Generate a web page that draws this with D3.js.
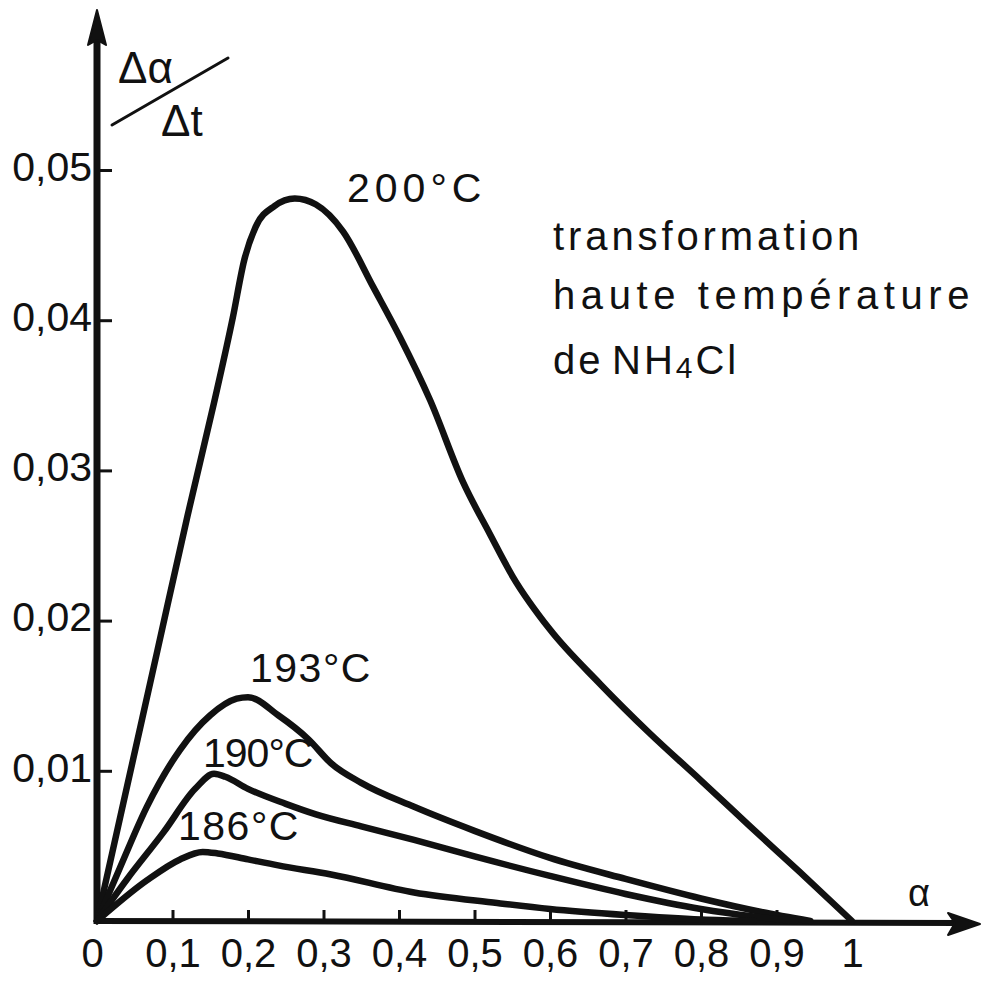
<!DOCTYPE html>
<html>
<head>
<meta charset="utf-8">
<script src="https://cdn.jsdelivr.net/npm/d3@7"></script>
<style>
  html, body { margin: 0; padding: 0; background: #fff; }
  svg { display: block; }
  .lbl { font-family: "Liberation Sans", "DejaVu Sans", sans-serif; fill: #111; }
  .tick text { font-family: "Liberation Sans Narrow", "Liberation Sans", sans-serif; fill: #111; }
</style>
</head>
<body>
<svg id="chart" width="984" height="985"></svg>
<script>
// ---------- data ----------
const alpha200 = [0, 0.04, 0.08, 0.12, 0.155, 0.18, 0.195, 0.21, 0.235, 0.262, 0.29, 0.326, 0.366, 0.401, 0.441, 0.485, 0.52, 0.551, 0.6, 0.666, 0.732, 0.799, 0.865, 0.93, 1];
const rate200  = [0, 0.0090, 0.0180, 0.0270, 0.0345, 0.0402, 0.0440, 0.0462, 0.0476, 0.0481, 0.0477, 0.0459, 0.0422, 0.0389, 0.0347, 0.0292, 0.0258, 0.0229, 0.0194, 0.0158, 0.0125, 0.0094, 0.0063, 0.0033, 0];

const alpha193 = [0, 0.03, 0.066, 0.11, 0.15, 0.185, 0.2, 0.24, 0.28, 0.31, 0.35, 0.42, 0.5, 0.6, 0.7, 0.8, 0.88, 0.945];
const rate193  = [0, 0.0035, 0.0076, 0.0114, 0.0137, 0.0148, 0.0149, 0.0137, 0.0121, 0.0105, 0.0092, 0.0076, 0.0060, 0.0042, 0.0028, 0.0015, 0.0006, 0];

const alpha190 = [0, 0.04, 0.088, 0.13, 0.155, 0.17, 0.2, 0.25, 0.29, 0.35, 0.42, 0.5, 0.6, 0.7, 0.8, 0.87, 0.925];
const rate190  = [0, 0.0028, 0.0059, 0.0088, 0.0098, 0.0096, 0.0088, 0.0078, 0.0071, 0.0063, 0.0054, 0.0043, 0.0030, 0.0018, 0.0008, 0.0003, 0];

const alpha186 = [0, 0.066, 0.11, 0.14, 0.16, 0.2, 0.24, 0.31, 0.42, 0.53, 0.6, 0.7, 0.8, 0.87];
const rate186  = [0, 0.0027, 0.0041, 0.0046, 0.0045, 0.0041, 0.0037, 0.0031, 0.0019, 0.0012, 0.0008, 0.0004, 0.0001, 0];

const seriesNames = ["200°C", "193°C", "190°C", "186°C"];
const xTickValues = [0, 0.1, 0.2, 0.3, 0.4, 0.5, 0.6, 0.7, 0.8, 0.9, 1];
const xTickLabels = ["0", "0,1", "0,2", "0,3", "0,4", "0,5", "0,6", "0,7", "0,8", "0,9", "1"];
const yTickValues = [0.01, 0.02, 0.03, 0.04, 0.05];
const yTickLabels = ["0,01", "0,02", "0,03", "0,04", "0,05"];

// ---------- drawing ----------
const svg = d3.select("#chart");
const x = d3.scaleLinear().domain([0, 1]).range([97, 852]);
const y = d3.scaleLinear().domain([0, 0.05]).range([921, 170]);

const ink = "#111";

// x axis ticks & labels
const xAxis = d3.axisBottom(x)
  .tickValues(xTickValues)
  .tickFormat((d, i) => xTickLabels[i])
  .tickSizeInner(-11).tickSizeOuter(0).tickPadding(18);
const gx = svg.append("g").attr("transform", `translate(0,${y(0)})`).call(xAxis);
gx.select(".domain").remove();
gx.selectAll(".tick line").attr("stroke", ink).attr("stroke-width", 3)
  .attr("opacity", d => (d === 0 || d === 1) ? 0 : 1);
gx.selectAll(".tick text").attr("font-size", 40).attr("fill", ink)
  .attr("dx", d => d === 0 ? -5 : 0);

// y axis ticks & labels
const yAxis = d3.axisLeft(y)
  .tickValues(yTickValues)
  .tickFormat((d, i) => yTickLabels[i])
  .tickSizeInner(-15).tickSizeOuter(0).tickPadding(5);
const gy = svg.append("g").attr("transform", `translate(${x(0)},0)`).call(yAxis);
gy.select(".domain").remove();
gy.selectAll(".tick line").attr("stroke", ink).attr("stroke-width", 3);
gy.selectAll(".tick text").attr("font-size", 41).attr("fill", ink).attr("dy", "0.25em");

// main axis lines with arrows
svg.append("line").attr("x1", x(0)).attr("y1", y(0) + 3).attr("x2", x(0)).attr("y2", 30)
  .attr("stroke", ink).attr("stroke-width", 7);
svg.append("path").attr("d", "M97,10 L88,45 L97,40 L106,45 Z").attr("fill", ink).attr("stroke", ink).attr("stroke-width", 2).attr("stroke-linejoin", "round");
svg.append("line").attr("x1", x(0) - 3).attr("y1", y(0)).attr("x2", 960).attr("y2", y(0) + 2)
  .attr("stroke", ink).attr("stroke-width", 6);
svg.append("path").attr("d", "M980,924 L948,913 L955,923 L948,935 Z").attr("fill", ink).attr("stroke", ink).attr("stroke-width", 2).attr("stroke-linejoin", "round");

// curves
const line = d3.line().x(d => x(d[0])).y(d => y(d[1])).curve(d3.curveMonotoneX);
const series = [
  d3.zip(alpha200, rate200),
  d3.zip(alpha193, rate193),
  d3.zip(alpha190, rate190),
  d3.zip(alpha186, rate186)
];
svg.append("g").selectAll("path").data(series).join("path")
  .attr("d", line)
  .attr("fill", "none").attr("stroke", ink)
  .attr("stroke-width", 6.5).attr("stroke-linejoin", "round").attr("stroke-linecap", "round");

// curve labels
const labelPos = [
  {x: 347, y: 202, ls: 5},
  {x: 250, y: 682, ls: 1.5},
  {x: 203, y: 767, ls: -1},
  {x: 178, y: 840, ls: 1.5}
];
svg.append("g").selectAll("text").data(seriesNames).join("text")
  .attr("class", "lbl")
  .attr("x", (d, i) => labelPos[i].x).attr("y", (d, i) => labelPos[i].y)
  .attr("font-size", 41)
  .attr("letter-spacing", (d, i) => labelPos[i].ls)
  .text(d => d);

// annotation block
svg.append("text").attr("class", "lbl").attr("x", 553).attr("y", 250)
  .attr("font-size", 40).attr("letter-spacing", 3.9).text("transformation");
svg.append("text").attr("class", "lbl").attr("x", 553).attr("y", 309)
  .attr("font-size", 40).attr("letter-spacing", 5.6).text("haute température");
const t3 = svg.append("text").attr("class", "lbl").attr("x", 553).attr("y", 374)
  .attr("font-size", 40).attr("letter-spacing", 3);
t3.append("tspan").text("de");
t3.append("tspan").attr("x", 612).text("NH");
t3.append("tspan").attr("font-size", 30).attr("dy", 4).text("4");
t3.append("tspan").attr("dy", -4).text("Cl");

// y axis quantity label  Δα / Δt
svg.append("text").attr("class", "lbl").attr("x", 118).attr("y", 83)
  .attr("font-size", 44).text("Δα");
svg.append("line").attr("x1", 112).attr("y1", 125).attr("x2", 228).attr("y2", 58)
  .attr("stroke", ink).attr("stroke-width", 3).attr("stroke-linecap", "round");
svg.append("text").attr("class", "lbl").attr("x", 161).attr("y", 136)
  .attr("font-size", 44).text("Δt");

// x axis quantity label α
svg.append("text").attr("class", "lbl").attr("x", 908).attr("y", 906)
  .attr("font-size", 38).text("α");
</script>
</body>
</html>
